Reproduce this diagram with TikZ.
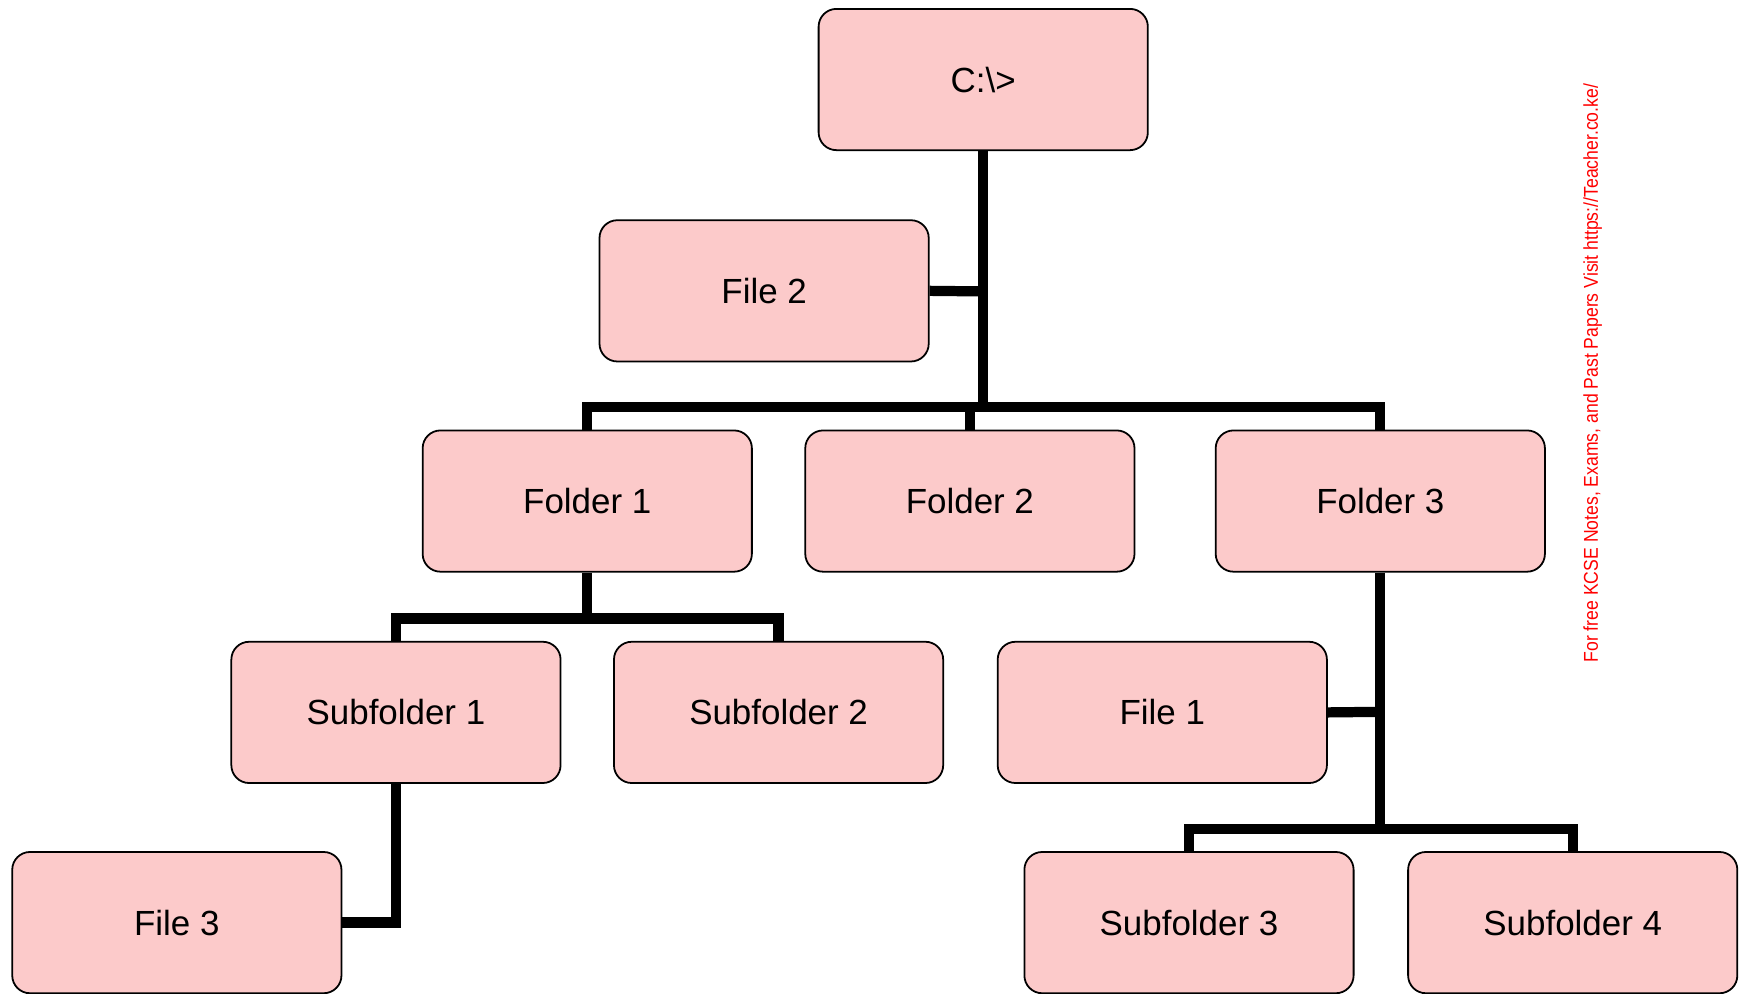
\documentclass[tikz,border=0pt]{standalone}
\usepackage{fontspec}
\setmainfont{Liberation Sans}
\usepackage{graphicx}
\definecolor{boxfill}{HTML}{FCCACA}
\definecolor{wmred}{HTML}{FF0000}
\begin{document}
\begin{tikzpicture}[x=0.5pt,y=-0.5pt,
  box/.style={draw=black, line width=0.8pt, fill=boxfill, rounded corners=8pt,
    minimum width=148pt, minimum height=63.5pt, inner sep=0pt,
    font=\fontsize{15.7pt}{18pt}\selectfont},
  conn/.style={line width=4.6pt, line join=miter, line cap=rect, draw=black}]
\useasboundingbox (0,0) rectangle (1568,893);
% connectors (drawn first, under boxes)
\coordinate (b1) at (884,366);
\coordinate (b2) at (528,556);
\coordinate (b3) at (1241,745);
\coordinate (j2) at (884,262);
\coordinate (j1) at (1241,640);
\coordinate (j3) at (356,829);
% nodes
\node[box] (root) at (884,71.5) {C:\textbackslash>};
\node[box] (file2) at (687,261.5) {File 2};
\node[box] (f1) at (528,450.5) {Folder 1};
\node[box] (f2) at (872,450.5) {Folder 2};
\node[box] (f3) at (1241,450.5) {Folder 3};
\node[box] (s1) at (356,640.5) {Subfolder 1};
\node[box] (s2) at (700,640.5) {Subfolder 2};
\node[box] (file1) at (1045,640.5) {File 1};
\node[box] (file3) at (159,829.5) {File 3};
\node[box] (s3) at (1069,829.5) {Subfolder 3};
\node[box] (s4) at (1414,829.5) {Subfolder 4};
\begin{scope}[line cap=butt]
\draw[conn,line cap=butt] (root.south) -- (b1);
\draw[conn,line cap=butt] (file2.east) -- (j2);
\draw[conn,line cap=butt] (f1.north) |- (b1) -| (f3.north);
\draw[conn,line cap=butt] (f2.north) -- (f2.north |- b1);
\draw[conn,line cap=butt] (f1.south) -- (b2);
\draw[conn,line cap=butt] (s1.north) |- (b2) -| (s2.north);
\draw[conn,line cap=butt] (s1.south) |- (file3.east);
\draw[conn,line cap=butt] (f3.south) -- (b3);
\draw[conn,line cap=butt] (file1.east) -- (j1);
\draw[conn,line cap=butt] (s3.north) |- (b3) -| (s4.north);
\end{scope}
% watermark
\node[rotate=90, text=wmred, inner sep=0pt, font=\fontsize{9pt}{10pt}\selectfont] (wm) at (1432,335.5)
  {\resizebox{260pt}{\height}{For free KCSE Notes, Exams, and Past Papers Visit https://Teacher.co.ke/}};
\end{tikzpicture}
\end{document}
